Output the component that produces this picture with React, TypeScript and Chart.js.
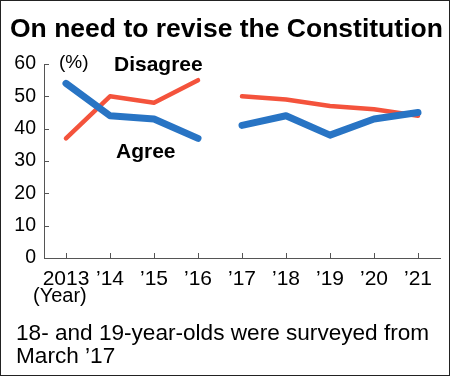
import React, { useEffect, useRef } from "react";
import { Chart, registerables } from "chart.js";

Chart.register(...registerables);

const categories = ["2013", "’14", "’15", "’16", "’17", "’18", "’19", "’20", "’21"];
const agree = [54, 44, 43, 37, 41, 44, 38, 43, 45];
const disagree = [37, 50, 48, 55, 50, 49, 47, 46, 44];
const gapAfterIndex = 3;
const yTicks = [0, 10, 20, 30, 40, 50, 60];

const titleText = "On need to revise the Constitution";
const noteLines = ["18- and 19-year-olds were surveyed from", "March ’17"];

const BLUE = "#2874c4";
const RED = "#f4533c";
const FONT = "'Liberation Sans', Arial, sans-serif";

const decorPlugin = {
  id: "decor",
  afterDraw(chart: any) {
    const { ctx, scales } = chart;
    const x = scales.x;
    const y = scales.y;
    ctx.save();
    // ticks
    ctx.strokeStyle = "#555";
    ctx.lineWidth = 1;
    ctx.beginPath();
    for (const v of yTicks) {
      const py = Math.round(y.getPixelForValue(v)) + 0.5;
      ctx.moveTo(x.left, py);
      ctx.lineTo(x.left + 5, py);
    }
    for (let i = 0; i < categories.length; i++) {
      const px = Math.round(x.getPixelForValue(i)) + 0.5;
      ctx.moveTo(px, y.bottom);
      ctx.lineTo(px, y.bottom - 5);
    }
    ctx.stroke();

    ctx.fillStyle = "#000";
    // title
    ctx.font = `bold 26.5px ${FONT}`;
    ctx.textAlign = "left";
    ctx.textBaseline = "alphabetic";
    ctx.fillText(titleText, 10, 37);

    // (%)
    ctx.font = `19px ${FONT}`;
    ctx.fillText("(%)", 59, 68);

    // series labels
    ctx.font = `bold 21px ${FONT}`;
    ctx.fillText("Disagree", 114, 71);
    ctx.fillText("Agree", 116, 158);

    // (Year)
    ctx.font = `20px ${FONT}`;
    ctx.fillText("(Year)", 33, 302);

    // note
    ctx.font = `22.6px ${FONT}`;
    ctx.fillText(noteLines[0], 16, 340);
    ctx.fillText(noteLines[1], 16, 363);

    // border
    ctx.strokeStyle = "#222";
    ctx.lineWidth = 1;
    ctx.strokeRect(0.5, 0.5, chart.width - 1, chart.height - 1);
    ctx.restore();
  },
};

export default function App() {
  const ref = useRef<HTMLCanvasElement>(null);
  useEffect(() => {
    if (!ref.current) return;
    const seg = (color: string) => ({
      borderColor: (c: any) => (c.p0DataIndex === gapAfterIndex ? "transparent" : color),
    });
    const chart = new Chart(ref.current, {
      type: "line",
      data: {
        labels: categories,
        datasets: [
          {
            label: "Agree",
            data: agree,
            borderColor: BLUE,
            borderWidth: 7,
            borderCapStyle: "round",
            borderJoinStyle: "round",
            pointRadius: 0,
            tension: 0,
            segment: seg(BLUE),
          },
          {
            label: "Disagree",
            data: disagree,
            borderColor: RED,
            borderWidth: 4.5,
            borderCapStyle: "round",
            borderJoinStyle: "round",
            pointRadius: 0,
            tension: 0,
            segment: seg(RED),
          },
        ],
      },
      options: {
        responsive: false,
        animation: false,
        layout: { padding: { left: 0, top: 64, right: 10, bottom: 0 } },
        plugins: {
          legend: { display: false },
          tooltip: { enabled: false },
          title: { display: false },
        },
        scales: {
          x: {
            offset: true,
            grid: { display: false, drawTicks: false },
            border: { display: true, color: "#555", width: 1 },
            ticks: {
              color: "#000",
              font: { family: FONT, size: 21 },
              padding: 9,
              maxRotation: 0,
              autoSkip: false,
            },
            afterFit: (s: any) => {
              s.height = 118;
            },
          },
          y: {
            min: 0,
            max: 60,
            grid: { display: false, drawTicks: false },
            border: { display: true, color: "#555", width: 1 },
            ticks: {
              stepSize: 10,
              color: "#000",
              font: { family: FONT, size: 19.5 },
              padding: 8,
            },
            afterFit: (s: any) => {
              s.width = 44;
            },
          },
        },
      },
      plugins: [decorPlugin],
    });
    return () => chart.destroy();
  }, []);
  return (
    <div style={{ position: "fixed", left: 0, top: 0, width: 450, height: 376, background: "#fff" }}>
      <canvas ref={ref} width={450} height={376} style={{ display: "block", width: 450, height: 376 }} />
    </div>
  );
}
